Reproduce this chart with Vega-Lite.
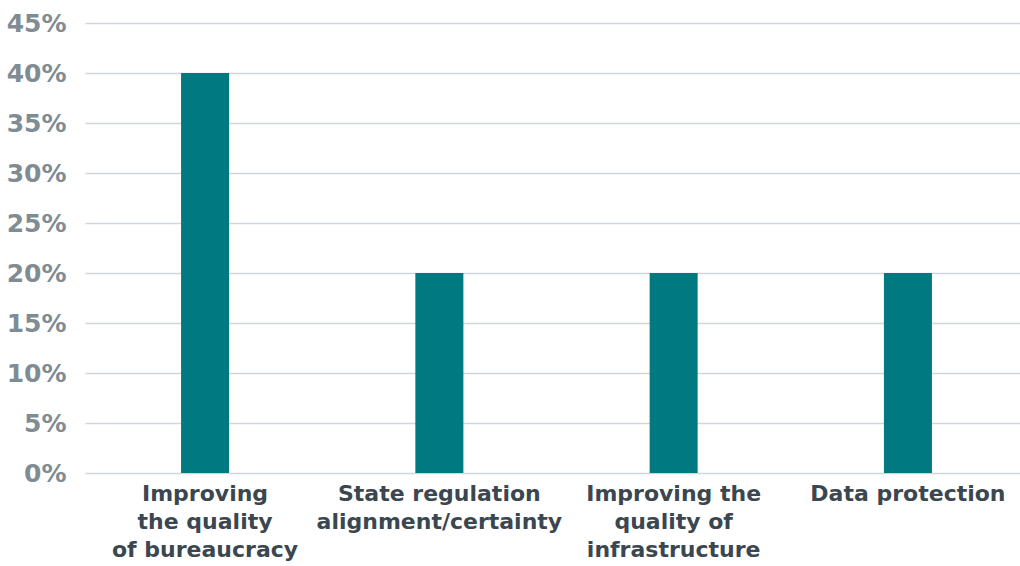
{
  "$schema": "https://vega.github.io/schema/vega-lite/v6.json",
  "autosize": {"type": "none"},
  "padding": {"left": 85, "top": 23, "right": 0, "bottom": 93},
  "width": 943,
  "height": 450,
  "background": "white",
  "config": {"view": {"stroke": null}, "font": "DejaVu Sans"},
  "data": {"values": [
    {"cat": "Improving|the quality|of bureaucracy", "value": 0.40},
    {"cat": "State regulation|alignment/certainty", "value": 0.20},
    {"cat": "Improving the|quality of|infrastructure", "value": 0.20},
    {"cat": "Data protection", "value": 0.20}
  ]},
  "mark": {"type": "bar", "color": "#007a80"},
  "encoding": {
    "x": {
      "field": "cat", "type": "nominal", "sort": null,
      "scale": {"paddingInner": 0.795, "paddingOuter": 0.41},
      "axis": {
        "title": null, "labelAngle": 0, "domain": false, "ticks": false,
        "labelExpr": "split(datum.label, '|')",
        "labelFont": "DejaVu Sans", "labelFontWeight": "bold", "labelFontSize": 22,
        "labelColor": "#3b4750", "labelLineHeight": 28, "labelPadding": 10,
        "labelLimit": 400
      }
    },
    "y": {
      "field": "value", "type": "quantitative",
      "scale": {"domain": [0, 0.45]},
      "axis": {
        "title": null, "format": ".0%", "values": [0,0.05,0.1,0.15,0.2,0.25,0.3,0.35,0.4,0.45],
        "domain": false, "ticks": false,
        "gridColor": "#d0d6da", "gridWidth": 1.5,
        "labelFont": "DejaVu Sans", "labelFontWeight": "bold", "labelFontSize": 25,
        "labelColor": "#7f8c94", "labelPadding": 19
      }
    }
  }
}
